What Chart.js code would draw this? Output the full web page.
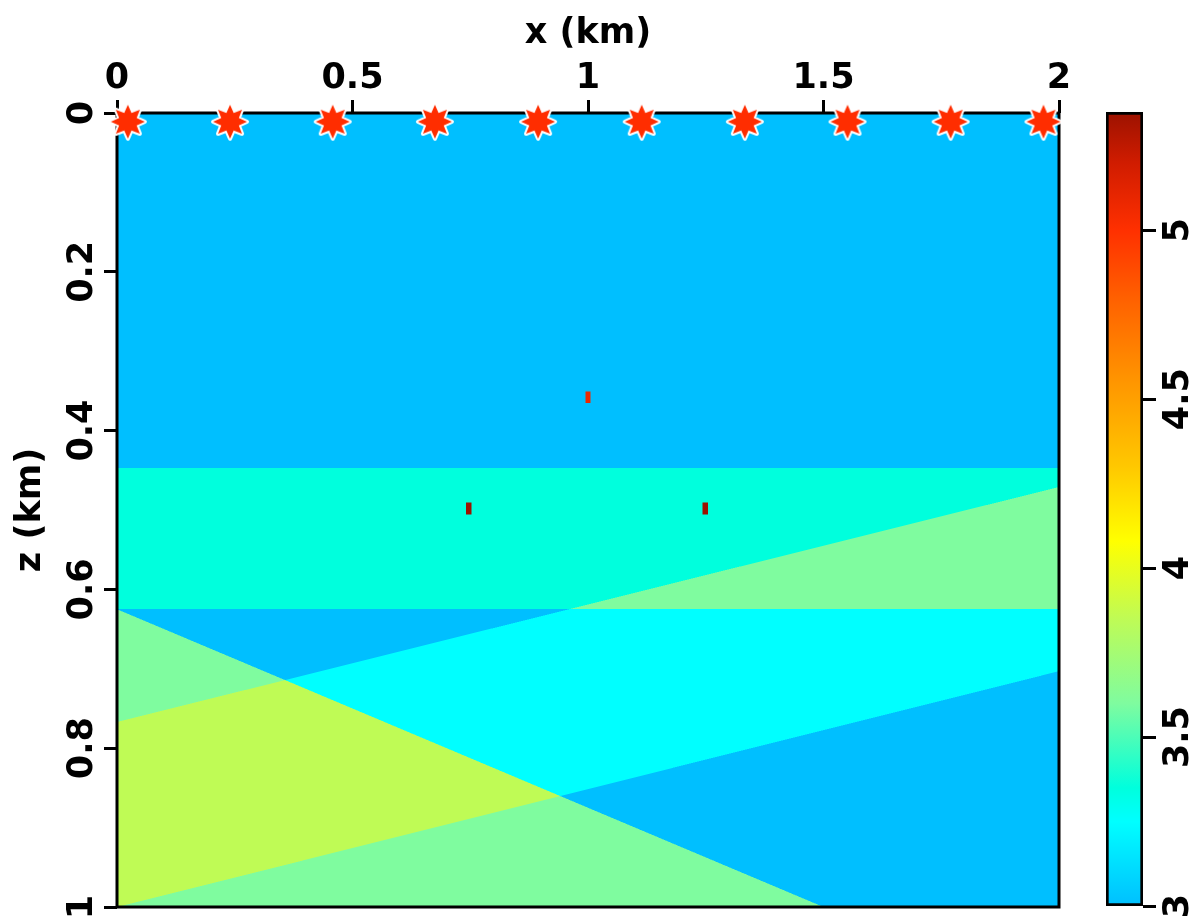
<!DOCTYPE html>
<html>
<head>
<meta charset="utf-8">
<title>Velocity model</title>
<script src="https://cdn.jsdelivr.net/npm/chart.js@4.4.1/dist/chart.umd.min.js"></script>
<style>
  html, body { margin: 0; padding: 0; background: #fff; }
  #wrap { position: relative; width: 1194px; height: 917px; overflow: hidden; }
  #model { position: absolute; left: 0; top: 0; }
  #cbar { position: absolute; left: 1080px; top: 0; }
</style>
</head>
<body>
<div id="wrap">
  <canvas id="model" width="1194" height="917"></canvas>
  <canvas id="cbar" width="114" height="917"></canvas>
</div>
<script>
// Axis ticks (km) and colour bar ticks (km/s)
const xTicks = [0, 0.5, 1, 1.5, 2];
const zTicks = [0, 0.2, 0.4, 0.6, 0.8, 1];
const cbTicks = [3, 3.5, 4, 4.5, 5];
const cbMin = 3;
const cbMax = 5.35;

// Source positions (stars)
const sourceX = [0.023, 0.240, 0.458, 0.675, 0.894, 1.114, 1.333, 1.551, 1.770, 1.967];
const sourceZ = [0.011, 0.011, 0.011, 0.011, 0.011, 0.011, 0.011, 0.011, 0.011, 0.011];

// Velocity model
const baseVelocity = 3.0;
// flat layer: top and bottom depth, velocity added inside it
const layerZ = [0.447, 0.625];
const layerDv = 0.35;
// dipping band between two parallel interfaces, given at x = bandX
const bandX = [0, 2];
const bandTopZ = [0.767, 0.471];
const bandBottomZ = [1.0, 0.703];
const bandDv = 0.25;
// wedge below the line through (wedgeX, wedgeZ)
const wedgeX = [0, 1.5];
const wedgeZ = [0.625, 1.0];
const wedgeDv = 0.6;
// small point scatterers
const scatterX = [1.0, 0.747, 1.249];
const scatterZ = [0.358, 0.498, 0.498];
const scatterV = [5.08, 5.35, 5.35];
const scatterW = 0.011;
const scatterH = 0.015;

// Colour map
const cmapValues = [3.0, 3.25, 3.35, 3.6, 3.85, 4.08, 4.3, 4.55, 4.8, 5.0, 5.2, 5.35];
const cmapColors = ['#00bfff', '#00ffff', '#00ffdd', '#7ffc9f', '#bffb55', '#ffff00',
                    '#ffc800', '#ff9600', '#ff6000', '#ff3000', '#d01c00', '#9c1200'];

const font = { family: '"DejaVu Sans", sans-serif', size: 35, weight: 'bold' };

/**
 * z of a straight interface through two points at x
 */
function lineZ(xs, zs, x) {
  return zs[0] + (zs[1] - zs[0]) * (x - xs[0]) / (xs[1] - xs[0]);
}

/**
 * Velocity at (x, z)
 */
function velocityAt(x, z) {
  for (let i = 0; i < scatterX.length; i++) {
    if (Math.abs(x - scatterX[i]) < scatterW / 2 && Math.abs(z - scatterZ[i]) < scatterH / 2) {
      return scatterV[i];
    }
  }
  let v = baseVelocity;
  if (z > layerZ[0] && z < layerZ[1]) v += layerDv;
  if (z > lineZ(bandX, bandTopZ, x) && z < lineZ(bandX, bandBottomZ, x)) v += bandDv;
  if (z > lineZ(wedgeX, wedgeZ, x)) v += wedgeDv;
  return v;
}

function hexToRgb(h) {
  return [parseInt(h.slice(1, 3), 16), parseInt(h.slice(3, 5), 16), parseInt(h.slice(5, 7), 16)];
}
const cmapRgb = cmapColors.map(hexToRgb);

function colorFor(v) {
  if (v <= cmapValues[0]) return cmapRgb[0];
  const n = cmapValues.length;
  if (v >= cmapValues[n - 1]) return cmapRgb[n - 1];
  let i = 0;
  while (v > cmapValues[i + 1]) i++;
  const t = (v - cmapValues[i]) / (cmapValues[i + 1] - cmapValues[i]);
  const a = cmapRgb[i], b = cmapRgb[i + 1];
  return [a[0] + (b[0] - a[0]) * t, a[1] + (b[1] - a[1]) * t, a[2] + (b[2] - a[2]) * t];
}

// Star marker
function makeStar(outer, inner, fill, stroke, lw) {
  const size = Math.ceil(2 * (outer + lw) + 4);
  const c = document.createElement('canvas');
  c.width = size;
  c.height = size;
  const g = c.getContext('2d');
  g.translate(size / 2, size / 2);
  g.beginPath();
  for (let i = 0; i < 16; i++) {
    const r = i % 2 ? inner : outer;
    const ang = -Math.PI / 2 + i * Math.PI / 8;
    g.lineTo(r * Math.cos(ang), r * Math.sin(ang));
  }
  g.closePath();
  g.lineJoin = 'round';
  g.lineWidth = lw * 2;
  g.strokeStyle = stroke;
  g.stroke();
  g.fillStyle = fill;
  g.fill();
  return c;
}
const starImage = makeStar(17, 9.5, '#ff2d00', '#ffffff', 2);

// Draws the velocity field through the chart scales, then the frame
const velocityImage = {
  id: 'velocityImage',
  beforeDatasetsDraw(chart) {
    const { ctx, chartArea: a, scales: { x, y } } = chart;
    const left = Math.round(a.left), top = Math.round(a.top);
    const w = Math.round(a.right) - left, h = Math.round(a.bottom) - top;
    const off = document.createElement('canvas');
    off.width = w;
    off.height = h;
    const octx = off.getContext('2d');
    const img = octx.createImageData(w, h);
    const sub = [0.25, 0.75];
    const xs = [], zs = [];
    for (let i = 0; i < w; i++) xs.push(sub.map(s => x.getValueForPixel(left + i + s)));
    for (let j = 0; j < h; j++) zs.push(sub.map(s => y.getValueForPixel(top + j + s)));
    const cache = new Map();
    for (let j = 0; j < h; j++) {
      for (let i = 0; i < w; i++) {
        let r = 0, g = 0, b = 0;
        for (const zz of zs[j]) {
          for (const xx of xs[i]) {
            const v = velocityAt(xx, zz);
            let c = cache.get(v);
            if (!c) { c = colorFor(v); cache.set(v, c); }
            r += c[0]; g += c[1]; b += c[2];
          }
        }
        const k = (j * w + i) * 4;
        img.data[k] = r / 4;
        img.data[k + 1] = g / 4;
        img.data[k + 2] = b / 4;
        img.data[k + 3] = 255;
      }
    }
    octx.putImageData(img, 0, 0);
    ctx.drawImage(off, left, top);

    ctx.save();
    ctx.lineWidth = 3;
    ctx.strokeStyle = '#000';
    ctx.strokeRect(a.left, a.top, a.right - a.left, a.bottom - a.top);
    ctx.restore();
  }
};

const tickLabel = v => String(v);

// Main model chart
new Chart(document.getElementById('model'), {
  type: 'scatter',
  data: {
    datasets: [{
      data: sourceX.map((sx, i) => ({ x: sx, y: sourceZ[i] })),
      pointStyle: starImage,
      pointRadius: 19,
      pointHoverRadius: 19,
      clip: false
    }]
  },
  options: {
    responsive: false,
    animation: false,
    events: [],
    layout: { autoPadding: false, padding: { left: 0, top: 0, right: 135, bottom: 10 } },
    plugins: { legend: { display: false }, tooltip: { enabled: false } },
    scales: {
      x: {
        type: 'linear',
        position: 'top',
        min: 0,
        max: 2,
        afterBuildTicks: s => { s.ticks = xTicks.map(v => ({ value: v })); },
        afterFit: s => { s.height = 113; s.paddingLeft = 0; s.paddingRight = 0; },
        grid: { drawOnChartArea: false, drawTicks: true, tickLength: 13, tickWidth: 3, tickColor: '#000' },
        border: { display: false },
        ticks: { font, color: '#000', padding: 0, autoSkip: false, maxRotation: 0, callback: tickLabel },
        title: { display: true, text: 'x (km)', font, color: '#000', padding: { top: 13, bottom: 0 } }
      },
      y: {
        type: 'linear',
        position: 'left',
        reverse: true,
        min: 0,
        max: 1,
        afterBuildTicks: s => { s.ticks = zTicks.map(v => ({ value: v })); },
        afterFit: s => { s.width = 117; s.paddingTop = 0; s.paddingBottom = 0; },
        grid: { drawOnChartArea: false, drawTicks: true, tickLength: 13, tickWidth: 3, tickColor: '#000' },
        border: { display: false },
        ticks: {
          font, color: '#000', padding: -10, autoSkip: false,
          minRotation: 90, maxRotation: 90, crossAlign: 'center', callback: tickLabel
        },
        title: { display: true, text: 'z (km)', font, color: '#000', padding: { top: 9.5, bottom: 0 } }
      }
    }
  },
  plugins: [velocityImage]
});

// Colour bar gradient built on the colour bar scale
function colorbarGradient(chart) {
  if (!chart.chartArea) return null;
  const ys = chart.scales.y;
  const g = chart.ctx.createLinearGradient(0, ys.getPixelForValue(cbMin), 0, ys.getPixelForValue(cbMax));
  cmapValues.forEach((v, i) => {
    g.addColorStop((v - cbMin) / (cbMax - cbMin), cmapColors[i]);
  });
  return g;
}

// Colour bar chart
new Chart(document.getElementById('cbar'), {
  type: 'bar',
  data: {
    labels: [''],
    datasets: [{
      data: [[cbMin, cbMax]],
      backgroundColor: c => colorbarGradient(c.chart),
      borderColor: '#000',
      borderWidth: 3,
      borderSkipped: false,
      barPercentage: 1,
      categoryPercentage: 1
    }]
  },
  options: {
    responsive: false,
    animation: false,
    events: [],
    layout: { autoPadding: false, padding: { left: 26, top: 112, right: 0, bottom: 11 } },
    plugins: { legend: { display: false }, tooltip: { enabled: false } },
    scales: {
      x: { display: false },
      y: {
        position: 'right',
        min: cbMin,
        max: cbMax,
        afterBuildTicks: s => { s.ticks = cbTicks.map(v => ({ value: v })); },
        afterFit: s => { s.width = 51; s.paddingTop = 0; s.paddingBottom = 0; },
        grid: { drawOnChartArea: false, drawTicks: true, tickLength: 13, tickWidth: 3, tickColor: '#000' },
        border: { display: false },
        ticks: {
          font, color: '#000', padding: -8, autoSkip: false,
          minRotation: 90, maxRotation: 90, crossAlign: 'center', callback: tickLabel
        }
      }
    }
  }
});
</script>
</body>
</html>
